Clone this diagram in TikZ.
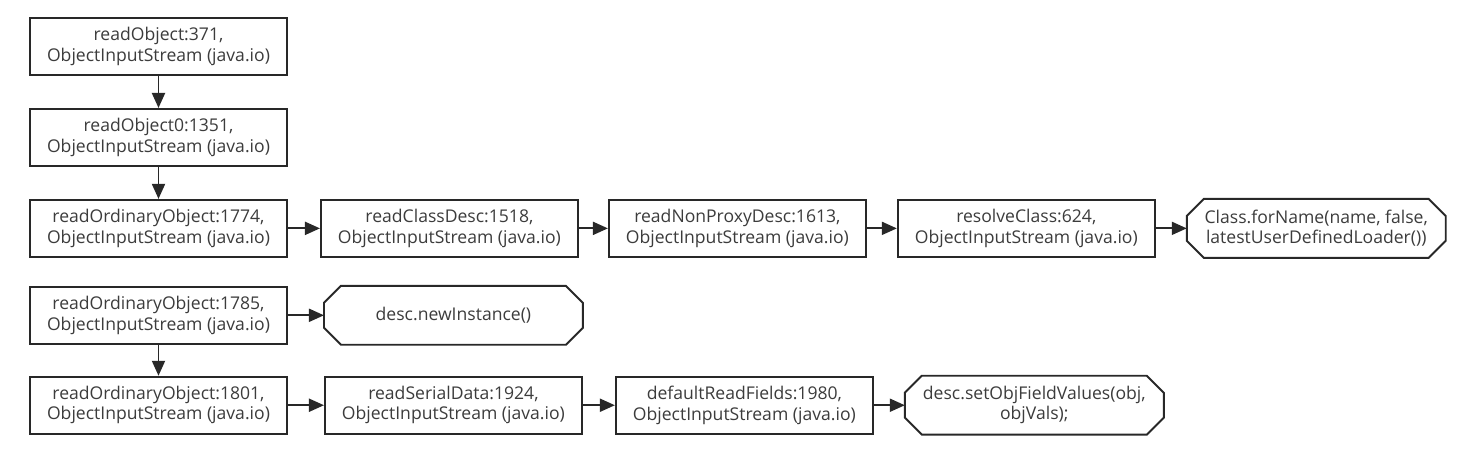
\documentclass[tikz,border=0pt]{standalone}
\usepackage{fontspec}
\setmainfont{Open Sans}
\usepackage{tikz}
\usetikzlibrary{arrows.meta, positioning}
\definecolor{cLine}{RGB}{40,40,40}
\definecolor{cText}{RGB}{60,60,60}
\tikzset{
	callbox/.style={rectangle, draw=cLine, line width=1.1pt, minimum width=5.14cm, minimum height=1.14cm, inner sep=1pt, align=center, text=cText, fill=white},
	endbox/.style ={callbox, draw=none},
	octa/.style   ={draw=cLine, line width=1.1pt, line join=miter},
	call/.style   ={-{Triangle[length=0.3cm, width=0.26cm]}, line width=1.1pt, draw=cLine},
}

\begin{document}
\begin{tikzpicture}[every node/.style={font=\fontsize{10}{11.6}\selectfont}]
	\useasboundingbox (0,0) rectangle (29.42,-8.98);
	% left column
	\node[callbox] (ro) at (3.17,-0.93) {readObject:371,\\ObjectInputStream (java.io)};
	\node[callbox, below=0.64cm of ro] (roz) {readObject0:1351,\\ObjectInputStream (java.io)};
	\node[callbox, below=0.64cm of roz] (rooa) {readOrdinaryObject:1774,\\ObjectInputStream (java.io)};
	\node[callbox, below=0.56cm of rooa] (roob) {readOrdinaryObject:1785,\\ObjectInputStream (java.io)};
	\node[callbox, below=0.62cm of roob] (rooc) {readOrdinaryObject:1801,\\ObjectInputStream (java.io)};
	% class lookup
	\node[callbox, right=0.64cm of rooa] (rcd) {readClassDesc:1518,\\ObjectInputStream (java.io)};
	\node[callbox, right=0.58cm of rcd] (rnpd) {readNonProxyDesc:1613,\\ObjectInputStream (java.io)};
	\node[callbox, right=0.6cm of rnpd] (rc) {resolveClass:624,\\ObjectInputStream (java.io)};
	\node[endbox, right=0.62cm of rc] (fn) {Class.forName(name, false,\\latestUserDefinedLoader())};
	% instance
	\node[endbox, right=0.72cm of roob] (ni) {desc.newInstance()};
	% field values
	\node[callbox, right=0.72cm of rooc] (rsd) {readSerialData:1924,\\ObjectInputStream (java.io)};
	\node[callbox, right=0.64cm of rsd] (drf) {defaultReadFields:1980,\\ObjectInputStream (java.io)};
	\node[endbox, right=0.62cm of drf] (sofv) {desc.setObjFieldValues(obj,\\objVals);};
	% octagon outlines of the end calls
	\foreach \n in {fn, ni, sofv}
		\draw[octa] ([xshift=0.34cm]\n.north west) -- ([xshift=-0.34cm]\n.north east) -- ([yshift=-0.34cm]\n.north east)
			-- ([yshift=0.34cm]\n.south east) -- ([xshift=-0.34cm]\n.south east) -- ([xshift=0.34cm]\n.south west)
			-- ([yshift=0.34cm]\n.south west) -- ([yshift=-0.34cm]\n.north west) -- cycle;
	\foreach \a/\b in {ro/roz, roz/rooa, rooa/rcd, rcd/rnpd, rnpd/rc, rc/fn, roob/ni, roob/rooc, rooc/rsd, rsd/drf, drf/sofv}
		\draw[call] (\a) -- (\b);
\end{tikzpicture}
\end{document}
